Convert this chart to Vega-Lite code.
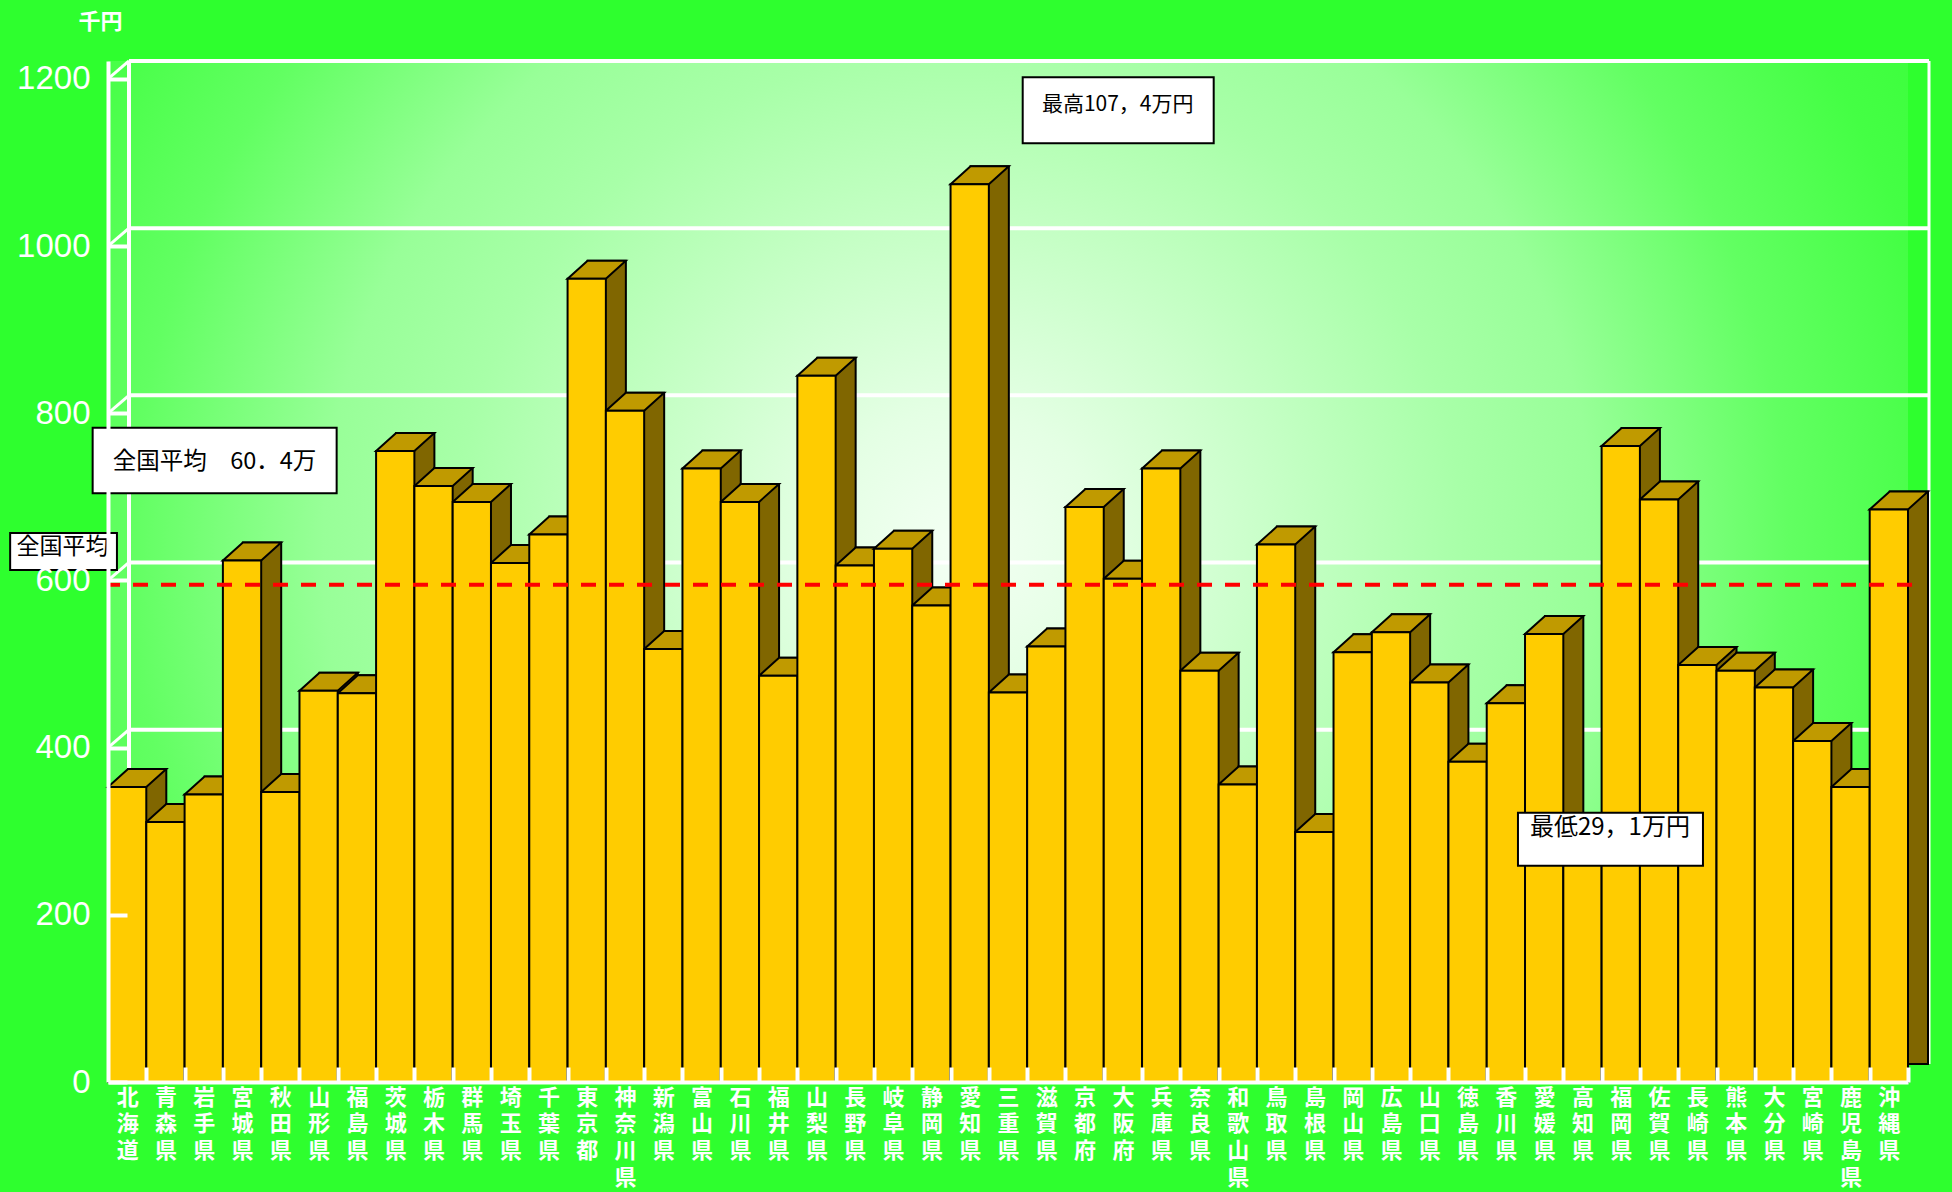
{
  "$schema": "https://vega.github.io/schema/vega-lite/v6.json",
  "width": 1800,
  "height": 1021,
  "autosize": {"type": "none"},
  "padding": {"left": 108, "top": 61, "right": 44, "bottom": 110},
  "background": "#2eff2e",
  "config": {
    "view": {
      "stroke": null,
      "fill": {
        "gradient": "radial",
        "x1": 0.473, "y1": 0.489, "r1": 0,
        "x2": 0.473, "y2": 0.489, "r2": 0.667,
        "stops": [
          {"offset": 0, "color": "#f4fff4"},
          {"offset": 0.12, "color": "#e4ffe4"},
          {"offset": 0.42, "color": "#a8ffa8"},
          {"offset": 0.53, "color": "#98ff98"},
          {"offset": 0.69, "color": "#62ff62"},
          {"offset": 0.83, "color": "#44ff44"},
          {"offset": 1, "color": "#33ff33"}
        ]
      }
    }
  },
  "datasets": {
    "pref": [
      {"pref": "北海道", "value": 353},
      {"pref": "青森県", "value": 311},
      {"pref": "岩手県", "value": 344},
      {"pref": "宮城県", "value": 624},
      {"pref": "秋田県", "value": 347},
      {"pref": "山形県", "value": 468},
      {"pref": "福島県", "value": 465},
      {"pref": "茨城県", "value": 755},
      {"pref": "栃木県", "value": 713},
      {"pref": "群馬県", "value": 694},
      {"pref": "埼玉県", "value": 621},
      {"pref": "千葉県", "value": 655},
      {"pref": "東京都", "value": 961},
      {"pref": "神奈川県", "value": 803},
      {"pref": "新潟県", "value": 518},
      {"pref": "富山県", "value": 734},
      {"pref": "石川県", "value": 694},
      {"pref": "福井県", "value": 486},
      {"pref": "山梨県", "value": 845},
      {"pref": "長野県", "value": 618},
      {"pref": "岐阜県", "value": 638},
      {"pref": "静岡県", "value": 570},
      {"pref": "愛知県", "value": 1074},
      {"pref": "三重県", "value": 466},
      {"pref": "滋賀県", "value": 521},
      {"pref": "京都府", "value": 688},
      {"pref": "大阪府", "value": 602},
      {"pref": "兵庫県", "value": 734},
      {"pref": "奈良県", "value": 492},
      {"pref": "和歌山県", "value": 356},
      {"pref": "鳥取県", "value": 643},
      {"pref": "島根県", "value": 299},
      {"pref": "岡山県", "value": 514},
      {"pref": "広島県", "value": 538},
      {"pref": "山口県", "value": 478},
      {"pref": "徳島県", "value": 383},
      {"pref": "香川県", "value": 453},
      {"pref": "愛媛県", "value": 536},
      {"pref": "高知県", "value": 291},
      {"pref": "福岡県", "value": 761},
      {"pref": "佐賀県", "value": 697},
      {"pref": "長崎県", "value": 499},
      {"pref": "熊本県", "value": 492},
      {"pref": "大分県", "value": 472},
      {"pref": "宮崎県", "value": 408},
      {"pref": "鹿児島県", "value": 353},
      {"pref": "沖縄県", "value": 685}
    ],
    "grid": [
      {"value": 200}, {"value": 400}, {"value": 600}, {"value": 800}, {"value": 1000}, {"value": 1200}
    ],
    "avg": [{"value": 595}],
    "walls": [
      {"pref": "北海道", "value": 1200, "bottom": 0}
    ],
    "wallsR": [
      {"pref": "沖縄県", "value": 1200, "bottom": 0}
    ],
    "notes": [
      {"kind": "max", "pref": "愛知県", "value": 1074, "label": "最高107，4万円"},
      {"kind": "min", "pref": "高知県", "value": 291, "label": "最低29，1万円"},
      {"kind": "avgbox", "pref": "北海道", "value": 604, "label": "全国平均　60．4万"},
      {"kind": "avgtag", "pref": "北海道", "value": 595, "label": "全国平均"}
    ]
  },
  "layer": [
    {
      "data": {"name": "grid"},
      "mark": {"type": "rule", "color": "white", "strokeWidth": 4, "xOffset": 21, "x2Offset": 21, "yOffset": -18},
      "encoding": {
        "y": {"field": "value", "type": "quantitative"},
        "x": {"datum": "北海道", "type": "nominal", "bandPosition": 0},
        "x2": {"datum": "沖縄県", "bandPosition": 1}
      }
    },
    {
      "data": {"name": "grid"},
      "mark": {"type": "rule", "color": "white", "strokeWidth": 3, "x2Offset": 21, "y2Offset": -18},
      "encoding": {
        "x": {"datum": "北海道", "type": "nominal", "bandPosition": 0},
        "x2": {"datum": "北海道", "bandPosition": 0},
        "y": {"field": "value", "type": "quantitative"},
        "y2": {"field": "value"}
      }
    },
    {
      "data": {"name": "walls"},
      "mark": {"type": "rule", "color": "white", "strokeWidth": 4, "xOffset": 21, "yOffset": -18, "y2Offset": -18},
      "encoding": {
        "x": {"field": "pref", "type": "nominal", "bandPosition": 0},
        "y": {"field": "value", "type": "quantitative"},
        "y2": {"field": "bottom"}
      }
    },
    {
      "data": {"name": "wallsR"},
      "mark": {"type": "rule", "color": "white", "strokeWidth": 3, "xOffset": 21, "yOffset": -18, "y2Offset": -18},
      "encoding": {
        "x": {"field": "pref", "type": "nominal", "bandPosition": 1},
        "y": {"field": "value", "type": "quantitative"},
        "y2": {"field": "bottom"}
      }
    },
    {
      "data": {"name": "pref"},
      "mark": {"type": "bar", "fill": "#806600", "stroke": "black", "strokeWidth": 2, "xOffset": 20, "x2Offset": 20, "yOffset": -18},
      "encoding": {
        "x": {"field": "pref", "type": "nominal"},
        "y": {"field": "value", "type": "quantitative"}
      }
    },
    {
      "data": {"name": "pref"},
      "mark": {"type": "point", "shape": "M -19.15 0 L 19.15 0 L 39.15 -18 L 0.85 -18 Z", "size": 4, "filled": true, "fill": "#C09A00", "stroke": "black", "strokeWidth": 2, "opacity": 1},
      "encoding": {
        "x": {"field": "pref", "type": "nominal"},
        "y": {"field": "value", "type": "quantitative"}
      }
    },
    {
      "data": {"name": "pref"},
      "mark": {"type": "bar", "fill": "#FFCC00", "stroke": "black", "strokeWidth": 2},
      "encoding": {
        "x": {
          "field": "pref", "type": "nominal",
          "scale": {
            "domain": ["北海道","青森県","岩手県","宮城県","秋田県","山形県","福島県","茨城県","栃木県","群馬県","埼玉県","千葉県","東京都","神奈川県","新潟県","富山県","石川県","福井県","山梨県","長野県","岐阜県","静岡県","愛知県","三重県","滋賀県","京都府","大阪府","兵庫県","奈良県","和歌山県","鳥取県","島根県","岡山県","広島県","山口県","徳島県","香川県","愛媛県","高知県","福岡県","佐賀県","長崎県","熊本県","大分県","宮崎県","鹿児島県","沖縄県"],
            "paddingInner": 0, "paddingOuter": 0
          },
          "axis": {
            "labelExpr": "split(datum.value, '')",
            "labelAngle": 0, "labelAlign": "center", "labelBaseline": "top",
            "labelLineHeight": 26.7, "labelPadding": 20,
            "labelColor": "white", "labelFont": "Liberation Sans, Noto Sans CJK JP", "labelFontSize": 22, "labelFontWeight": "bold",
            "ticks": true, "tickSize": -15, "tickWidth": 4, "tickColor": "white",
            "tickOffset": 19.149, "labelOffset": -19.149,
            "domain": true, "domainColor": "white", "domainWidth": 4,
            "title": null, "grid": false,
            "labelOverlap": false, "labelBound": false, "labelFlush": false, "labelLimit": 0,
            "zindex": 1
          }
        },
        "y": {
          "field": "value", "type": "quantitative",
          "scale": {"domain": [0, 1221.5], "nice": false, "zero": true},
          "axis": {
            "values": [0, 200, 400, 600, 800, 1000, 1200],
            "format": "d",
            "grid": false,
            "domain": true, "domainColor": "white", "domainWidth": 4,
            "ticks": true, "tickColor": "white", "tickWidth": 4, "tickSize": -19,
            "labelPadding": 37, "labelColor": "white", "labelFont": "Liberation Sans", "labelFontSize": 33,
            "labelOverlap": false, "labelBound": false, "labelFlush": false,
            "title": "千円", "titleAngle": 0, "titleColor": "white", "titleFont": "Noto Sans CJK JP",
            "titleFontSize": 22, "titleFontWeight": "bold", "titleX": -8, "titleY": -40,
            "titleAlign": "center", "titleBaseline": "middle",
            "zindex": 1
          }
        }
      }
    },
    {
      "data": {"name": "avg"},
      "mark": {"type": "rule", "color": "#ff0000", "strokeWidth": 4, "strokeDash": [15, 13], "xOffset": 4, "x2Offset": 22},
      "encoding": {"y": {"field": "value", "type": "quantitative"}}
    },
    {
      "data": {"name": "notes"},
      "transform": [{"filter": "datum.kind == 'max'"}],
      "encoding": {
        "x": {"field": "pref", "type": "nominal"},
        "y": {"field": "value", "type": "quantitative"}
      },
      "layer": [
        {"mark": {"type": "point", "shape": "M 53 -107 L 244 -107 L 244 -41 L 53 -41 Z", "size": 4, "filled": true, "fill": "white", "stroke": "black", "strokeWidth": 2, "opacity": 1}},
        {"mark": {"type": "text", "dx": 148, "dy": -79, "align": "center", "baseline": "middle", "font": "Noto Sans CJK JP", "fontSize": 21, "color": "black"}, "encoding": {"text": {"field": "label"}}}
      ]
    },
    {
      "data": {"name": "notes"},
      "transform": [{"filter": "datum.kind == 'min'"}],
      "encoding": {
        "x": {"field": "pref", "type": "nominal"},
        "y": {"field": "value", "type": "quantitative"}
      },
      "layer": [
        {"mark": {"type": "point", "shape": "M -64.5 -26 L 120.5 -26 L 120.5 27 L -64.5 27 Z", "size": 4, "filled": true, "fill": "white", "stroke": "black", "strokeWidth": 2, "opacity": 1}},
        {"mark": {"type": "text", "dx": 27.5, "dy": -11, "align": "center", "baseline": "middle", "font": "Noto Sans CJK JP", "fontSize": 24, "color": "black"}, "encoding": {"text": {"field": "label"}}}
      ]
    },
    {
      "data": {"name": "notes"},
      "transform": [{"filter": "datum.kind == 'avgbox'"}],
      "encoding": {
        "x": {"field": "pref", "type": "nominal"},
        "y": {"field": "value", "type": "quantitative"}
      },
      "layer": [
        {"mark": {"type": "point", "shape": "M -34.5 -149.5 L 209.5 -149.5 L 209.5 -84 L -34.5 -84 Z", "size": 4, "filled": true, "fill": "white", "stroke": "black", "strokeWidth": 2, "opacity": 1}},
        {"mark": {"type": "text", "dx": 87.4, "dy": -115.4, "align": "center", "baseline": "middle", "font": "Noto Sans CJK JP", "fontSize": 23.5, "color": "black"}, "encoding": {"text": {"field": "label"}}}
      ]
    },
    {
      "data": {"name": "notes"},
      "transform": [{"filter": "datum.kind == 'avgtag'"}],
      "encoding": {
        "x": {"field": "pref", "type": "nominal"},
        "y": {"field": "value", "type": "quantitative"}
      },
      "layer": [
        {"mark": {"type": "point", "shape": "M -117 -51.7 L -10.2 -51.7 L -10.2 -14.7 L -117 -14.7 Z", "size": 4, "filled": true, "fill": "white", "stroke": "black", "strokeWidth": 2, "opacity": 1}},
        {"mark": {"type": "text", "dx": -64.7, "dy": -37.7, "align": "center", "baseline": "middle", "font": "Noto Sans CJK JP", "fontSize": 23, "color": "black"}, "encoding": {"text": {"field": "label"}}}
      ]
    }
  ]
}
